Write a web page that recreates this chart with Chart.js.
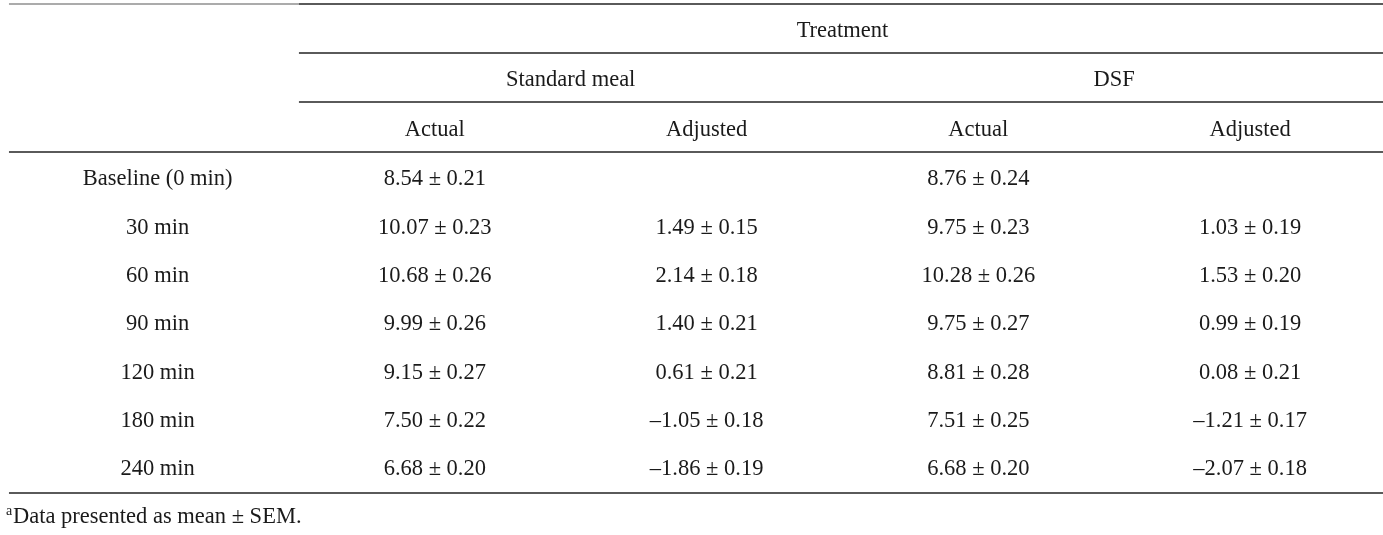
<!DOCTYPE html>
<html>
<head>
<meta charset="utf-8">
<script src="https://cdn.jsdelivr.net/npm/chart.js@4.4.1/dist/chart.umd.min.js"></script>
<style>
  html, body { margin: 0; padding: 0; background: #fff; }
  #wrap { width: 1383px; height: 535px; position: relative; }
</style>
</head>
<body>
<div id="wrap"><canvas id="myChart"></canvas></div>
<script>
// table content
let rowLabels    = ["Baseline (0 min)", "30 min", "60 min", "90 min", "120 min", "180 min", "240 min"];
let groupTitle   = "Treatment";
let groups       = ["Standard meal", "DSF"];
let subHeads     = ["Actual", "Adjusted", "Actual", "Adjusted"];
let footnote     = "Data presented as mean \u00b1 SEM.";

let smActual     = [8.54, 10.07, 10.68, 9.99, 9.15, 7.50, 6.68];
let smActualSem  = [0.21, 0.23, 0.26, 0.26, 0.27, 0.22, 0.20];
let smAdj        = [null, 1.49, 2.14, 1.40, 0.61, -1.05, -1.86];
let smAdjSem     = [null, 0.15, 0.18, 0.21, 0.21, 0.18, 0.19];
let dsfActual    = [8.76, 9.75, 10.28, 9.75, 8.81, 7.51, 6.68];
let dsfActualSem = [0.24, 0.23, 0.26, 0.27, 0.28, 0.25, 0.20];
let dsfAdj       = [null, 1.03, 1.53, 0.99, 0.08, -1.21, -2.07];
let dsfAdjSem    = [null, 0.19, 0.20, 0.19, 0.21, 0.17, 0.18];

const FONT = '"Liberation Serif", "Times New Roman", serif';
const SIZE = 22.5;
const TEXT = '#1a1a1a';
const RULE = '#5a5a5a';

function fmt(m, s) {
    if (m === null) return "";
    let a = (m < 0 ? "\u2013" : "") + Math.abs(m).toFixed(2);
    return a + " \u00b1 " + s.toFixed(2);
}

// each column is a dataset of invisible points, the text is drawn at those points
function cellSet(col, texts, firstRow) {
    return {
        data: texts.map((t, i) => ({ x: col, y: firstRow + i, text: t })),
        pointRadius: 0,
        showLine: false
    };
}

let datasets = [
    cellSet(-0.02, rowLabels, 3),
    cellSet(1, smActual.map((m, i) => fmt(m, smActualSem[i])), 3),
    cellSet(2, smAdj.map((m, i) => fmt(m, smAdjSem[i])), 3),
    cellSet(3, dsfActual.map((m, i) => fmt(m, dsfActualSem[i])), 3),
    cellSet(4, dsfAdj.map((m, i) => fmt(m, dsfAdjSem[i])), 3),
    { data: subHeads.map((t, i) => ({ x: i + 1, y: 1.97, text: t })), pointRadius: 0 },
    { data: groups.map((t, i) => ({ x: 1.5 + i * 2, y: 0.94, text: t })), pointRadius: 0 },
    { data: [{ x: 2.5, y: -0.08, text: groupTitle }], pointRadius: 0 }
];

// horizontal rules: [y, xFrom, xTo, colour]
let rules = [
    [-0.745, -0.567, 0.5, '#ababab'],
    [-0.745, 0.5, 5, RULE],
    [0.265, 0.5, 5, RULE],
    [1.279, 0.5, 5, RULE],
    [2.307, -0.567, 5, RULE],
    [9.373, -0.567, 5, RULE]
];

const tablePlugin = {
    id: 'tableText',
    afterDatasetsDraw(chart) {
        const ctx = chart.ctx;
        const xs = chart.scales.x, ys = chart.scales.y;
        ctx.save();
        ctx.lineWidth = 2;
        rules.forEach(r => {
            const y = Math.round(ys.getPixelForValue(r[0]));
            ctx.strokeStyle = r[3];
            ctx.beginPath();
            ctx.moveTo(xs.getPixelForValue(Math.max(r[1], xs.min)), y);
            ctx.lineTo(xs.getPixelForValue(Math.min(r[2], xs.max)), y);
            ctx.stroke();
        });
        ctx.fillStyle = TEXT;
        ctx.font = SIZE + 'px ' + FONT;
        ctx.textAlign = 'center';
        ctx.textBaseline = 'alphabetic';
        chart.data.datasets.forEach((ds, di) => {
            const meta = chart.getDatasetMeta(di);
            meta.data.forEach((pt, i) => {
                ctx.fillText(ds.data[i].text, pt.x, pt.y);
            });
        });
        // footnote
        const fy = ys.getPixelForValue(9.983);
        ctx.textAlign = 'left';
        ctx.font = '14px ' + FONT;
        ctx.fillText('a', 6, fy - 8);
        ctx.font = SIZE + 'px ' + FONT;
        ctx.fillText(footnote, 13, fy);
        ctx.restore();
    }
};

const ctx = document.getElementById('myChart').getContext('2d');
const myChart = new Chart(ctx, {
    type: 'scatter',
    data: { datasets: datasets },
    options: {
        responsive: true,
        maintainAspectRatio: false,
        animation: false,
        layout: { padding: 0 },
        plugins: { legend: { display: false }, tooltip: { enabled: false } },
        scales: {
            x: { type: 'linear', min: -0.6, max: 4.489, display: false },
            y: { type: 'linear', reverse: true, min: -0.838, max: 10.232, display: false }
        }
    },
    plugins: [tablePlugin]
});
</script>
</body>
</html>
